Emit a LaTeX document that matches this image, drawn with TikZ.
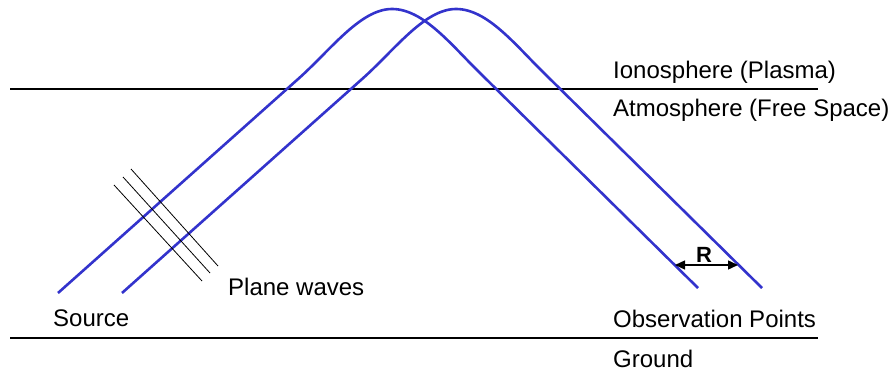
\documentclass[tikz,border=0pt]{standalone}
\usepackage{fontspec}
\setmainfont{Liberation Sans}
\usetikzlibrary{arrows.meta}
\definecolor{wave}{RGB}{51,51,204}
\begin{document}
\begin{tikzpicture}[x=1pt,y=-1pt,
  ray/.style={draw=wave, line width=2.6pt, line join=round},
  layer/.style={draw=black, line width=2pt},
  front/.style={draw=black, line width=0.8pt},
  lbl/.style={anchor=base west, inner sep=0pt, font=\fontsize{24}{28}\selectfont},
  dist/.style={draw=black, line width=1.4pt, {Triangle[length=10pt,width=9pt]}-{Triangle[length=10pt,width=9pt]}},
  ]
\useasboundingbox (0,0) rectangle (893,371);
% layer boundaries
\coordinate (iono-l) at (10,89);
\coordinate (iono-r) at (818,89);
\coordinate (gnd-l) at (10,338);
\coordinate (gnd-r) at (818,338);
\draw[layer] (iono-l) -- (iono-r);
\draw[layer] (gnd-l) -- (gnd-r);
% rays
\begin{scope}[shift={(392,9)}]
  \draw[ray] (-334,284) -- (-95,71) .. controls (-62,42) and (-32,0) .. (0,0)
    .. controls (32,0) and (60,37) .. (90,66) -- (306,279);
\end{scope}
\begin{scope}[shift={(456,9)}]
  \draw[ray] (-334,284) -- (-95,71) .. controls (-62,42) and (-32,0) .. (0,0)
    .. controls (32,0) and (60,37) .. (90,66) -- (306,279);
\end{scope}
% plane wave fronts
\coordinate (f1a) at (114,185); \coordinate (f1b) at (202,281);
\coordinate (f2a) at (123,177); \coordinate (f2b) at (210,273);
\coordinate (f3a) at (131,169); \coordinate (f3b) at (218,266);
\draw[front] (f1a) -- (f1b);
\draw[front] (f2a) -- (f2b);
\draw[front] (f3a) -- (f3b);
% distance R
\coordinate (rl) at (675,265);
\coordinate (rr) at (738,265);
\draw[dist] (rl) -- (rr);
\node[anchor=base, inner sep=0pt, font=\fontsize{22}{26}\selectfont\bfseries] (R) at (704,262) {R};
% labels
\node[lbl] (iono) at (613,79) {Ionosphere (Plasma)};
\node[lbl] (atmo) at (613,117) {Atmosphere (Free Space)};
\node[lbl] (plane) at (228,295) {Plane waves};
\node[lbl] (src) at (53,326) {Source};
\node[lbl] (obs) at (613,327) {Observation Points};
\node[lbl] (gnd) at (613,367) {Ground};
\end{tikzpicture}
\end{document}
